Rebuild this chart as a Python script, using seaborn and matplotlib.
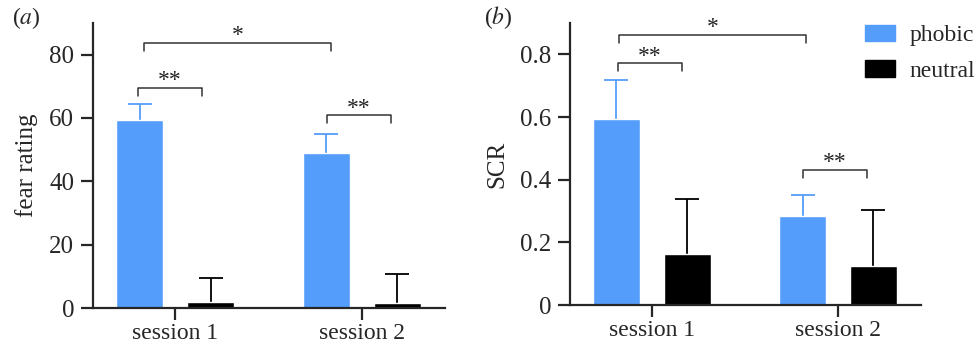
import numpy as np
import pandas as pd
import matplotlib
matplotlib.use("Agg")
import matplotlib.pyplot as plt
import seaborn as sns

sessions = ["session 1", "session 2"]
conditions = ["phobic", "neutral"]

# panel a: fear rating (mean, upper error)
fear_phobic = [59.5, 49.0]
fear_neutral = [2.0, 1.5]
fear_err_phobic = [5.0, 6.0]
fear_err_neutral = [7.5, 9.3]

# panel b: SCR
scr_phobic = [0.595, 0.284]
scr_neutral = [0.163, 0.124]
scr_err_phobic = [0.122, 0.067]
scr_err_neutral = [0.175, 0.179]

colors = {"phobic": "#559DFB", "neutral": "#000000"}

sns.set_style("ticks")
plt.rcParams["font.family"] = ["Liberation Serif", "DejaVu Serif"]
plt.rcParams["mathtext.fontset"] = "stix"

fig = plt.figure(figsize=(9.78, 3.51), dpi=100)
ax_a = fig.add_axes([0.0951, 0.1225, 0.3599, 0.812])
ax_b = fig.add_axes([0.5828, 0.131, 0.3586, 0.8035])


def make_df(ph, ne):
    return pd.DataFrame({
        "session": sessions * 2,
        "condition": ["phobic"] * 2 + ["neutral"] * 2,
        "value": list(ph) + list(ne),
    })


def draw(ax, ph, ne, eph, ene, ylim, yticks, yticklabels, ylabel):
    df = make_df(ph, ne)
    sns.barplot(data=df, x="session", y="value", hue="condition",
                hue_order=conditions, palette=colors, errorbar=None,
                width=0.76, gap=0.34, ax=ax, legend=False, saturation=1)
    errs = {"phobic": eph, "neutral": ene}
    vals = {"phobic": ph, "neutral": ne}
    for cont, cond in zip(ax.containers, conditions):
        xs = [p.get_x() + p.get_width() / 2 for p in cont]
        # symmetric bars, the lower half is hidden behind the bar / axis
        ecol = "#559DFB" if cond == "phobic" else "black"
        ax.errorbar(xs, vals[cond], yerr=errs[cond], fmt="none",
                    ecolor=ecol, elinewidth=1.3, capsize=8.5, capthick=1.3,
                    zorder=1)
    for p in ax.patches:
        p.set_zorder(2)
    ax.set_xlim(-0.44, 1.445)
    ax.set_ylim(*ylim)
    ax.set_yticks(yticks)
    ax.set_yticklabels(yticklabels)
    ax.set_xlabel("")
    ax.set_ylabel(ylabel, fontsize=18, labelpad=8)
    sns.despine(ax=ax)
    for s in ["left", "bottom"]:
        ax.spines[s].set_linewidth(1.6)
        ax.spines[s].set_zorder(3)
    ax.tick_params(axis="both", width=1.6, length=8.5, labelsize=18,
                   pad=5)
    ax.tick_params(axis="x", labelsize=17, pad=2)


def bracket(ax, x0, x1, y, drop, text, ty):
    ax.plot([x0, x0, x1, x1], [y - drop, y, y, y - drop], color="#333333",
            lw=1.1, clip_on=False)
    ax.text((x0 + x1) / 2, ty, text, ha="center", va="center", fontsize=17,
            color="#222222")


draw(ax_a, fear_phobic, fear_neutral, fear_err_phobic, fear_err_neutral,
     (0, 90), [0, 20, 40, 60, 80], ["0", "20", "40", "60", "80"],
     "fear rating")
draw(ax_b, scr_phobic, scr_neutral, scr_err_phobic, scr_err_neutral,
     (0, 0.9), [0, 0.2, 0.4, 0.6, 0.8], ["0", "0.2", "0.4", "0.6", "0.8"],
     "SCR")

bracket(ax_a, -0.166, 0.834, 83.8, 2.6, "*", 86.0)
bracket(ax_a, -0.198, 0.144, 69.6, 2.5, "**", 71.8)
bracket(ax_a, 0.813, 1.155, 60.8, 2.3, "**", 63.0)

bracket(ax_b, -0.174, 0.826, 0.861, 0.024, "*", 0.885)
bracket(ax_b, -0.183, 0.163, 0.771, 0.025, "**", 0.792)
bracket(ax_b, 0.813, 1.158, 0.431, 0.025, "**", 0.455)

fig.text(0.012, 0.95, r"($\mathit{a}$)", fontsize=17, va="center")
fig.text(0.495, 0.95, r"($\mathit{b}$)", fontsize=17, va="center")

handles = [plt.Rectangle((0, 0), 1, 1, color=colors[c]) for c in conditions]
fig.legend(handles, conditions, loc="upper left",
           bbox_to_anchor=(0.884, 0.93), frameon=False, fontsize=17,
           handlelength=1.3, handleheight=0.7, handletextpad=0.6,
           labelspacing=0.6, borderaxespad=0, borderpad=0)

fig.savefig("out.png", dpi=100)
